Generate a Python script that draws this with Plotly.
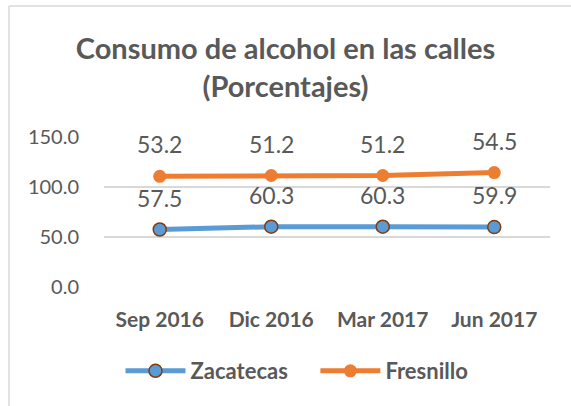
import plotly.graph_objects as go

categories = ["Sep 2016", "Dic 2016", "Mar 2017", "Jun 2017"]
zacatecas = [57.5, 60.3, 60.3, 59.9]
fresnillo = [53.2, 51.2, 51.2, 54.5]
y_ticks = [0, 50, 100, 150]
y_tick_labels = ["0.0", "50.0", "100.0", "150.0"]

# stacked line: Fresnillo drawn on top of Zacatecas
fresnillo_stacked = [round(a + b, 1) for a, b in zip(zacatecas, fresnillo)]

FONT = "Lato, Calibri, Carlito, sans-serif"
GRAY = "#595959"
BLUE = "#5B9BD5"
ORANGE = "#ED7D31"
NBSP = "\u00a0"

fig = go.Figure()
fig.add_trace(go.Scatter(
    x=categories, y=zacatecas, name="<b>Zacatecas</b>" + NBSP * 4, mode="lines+markers",
    line=dict(color=BLUE, width=5),
    marker=dict(color=BLUE, size=13, line=dict(color="#843C0C", width=1.5)),
))
fig.add_trace(go.Scatter(
    x=categories, y=fresnillo_stacked, name="<b>Fresnillo</b>", mode="lines+markers",
    line=dict(color=ORANGE, width=5),
    marker=dict(color=ORANGE, size=13),
))

for c, y, v in zip(categories, zacatecas, zacatecas):
    fig.add_annotation(x=c, y=y, text=f"{v:.1f}", showarrow=False, yshift=32,
                       font=dict(family=FONT, size=23, color=GRAY))
for c, y, v in zip(categories, fresnillo_stacked, fresnillo):
    fig.add_annotation(x=c, y=y, text=f"{v:.1f}", showarrow=False, yshift=32,
                       font=dict(family=FONT, size=23, color=GRAY))

# chart border (light gray, left and top visible)
L, T, W, H = 104, 137, 446, 150
def px(xp): return (xp - L) / W
def py(yp): return (T + H - yp) / H
border = "#D9D9D9"
fig.add_shape(type="line", xref="paper", yref="paper", x0=px(9), x1=px(9), y0=py(410), y1=py(6),
              line=dict(color=border, width=1.5))
fig.add_shape(type="line", xref="paper", yref="paper", x0=px(9), x1=px(575), y0=py(6), y1=py(6),
              line=dict(color=border, width=1.5))

fig.update_layout(
    width=571, height=406,
    margin=dict(l=L, r=571 - L - W, t=T, b=406 - T - H),
    paper_bgcolor="white", plot_bgcolor="white",
    title=dict(text="<b>Consumo de alcohol en las calles<br>(Porcentajes)</b>",
               x=0.5, xref="container", xanchor="center", y=(406 - 59) / 406, yanchor="middle",
               font=dict(family=FONT, size=29, color=GRAY)),
    showlegend=True,
    legend=dict(orientation="h", x=297 / 571, xref="container", xanchor="center", y=(406 - 371) / 406,
                yref="container", yanchor="middle",
                font=dict(family=FONT, size=22, color=GRAY), itemwidth=60,
                traceorder="normal"),
    xaxis=dict(type="category", range=[-0.5, 3.5], showgrid=False, showline=False, zeroline=False,
               ticks="", ticklabelstandoff=18,
               tickfont=dict(family=FONT, size=21, color=GRAY), tickprefix="<b>", ticksuffix="</b>"),
    yaxis=dict(range=[0, 150], tickvals=y_ticks, ticktext=y_tick_labels, showgrid=True,
               gridcolor="#D9D9D9", gridwidth=1.5, zeroline=False, showline=False, ticks="",
               ticklabelstandoff=24, tickfont=dict(family=FONT, size=20, color=GRAY)),
)

fig.write_html("out.html", post_script="document.body.style.margin='0';",
               config={"displayModeBar": False})
